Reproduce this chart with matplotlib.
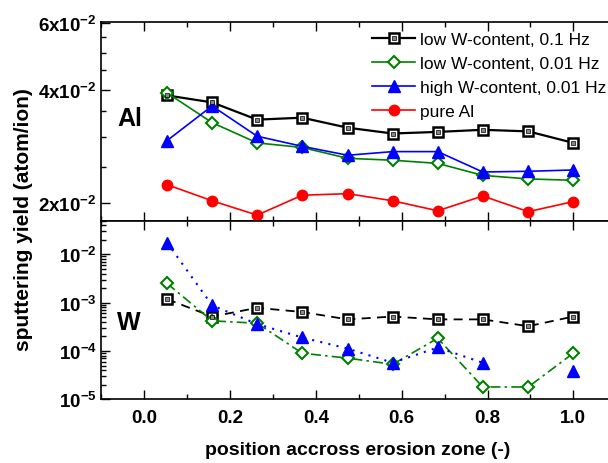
import numpy as np
import matplotlib
matplotlib.use('Agg')
import matplotlib.pyplot as plt
from matplotlib.ticker import FixedLocator, LogLocator, MultipleLocator, NullFormatter
from matplotlib.lines import Line2D

plt.rcParams['font.family'] = ['Liberation Sans', 'DejaVu Sans']
plt.rcParams['mathtext.fontset'] = 'custom'
plt.rcParams['mathtext.rm'] = 'Liberation Sans:bold'
plt.rcParams['mathtext.it'] = 'Liberation Sans:bold'
plt.rcParams['mathtext.bf'] = 'Liberation Sans:bold'

# position across the erosion zone
pos = [0.053, 0.158, 0.263, 0.368, 0.474, 0.579, 0.684, 0.789, 0.895, 1.0]

# Al sputtering yield (atom/ion)
al_low_01   = [0.0386, 0.0370, 0.0333, 0.0337, 0.0317, 0.0306, 0.0309, 0.0313, 0.0310, 0.0289]
al_low_001  = [0.0392, 0.0327, 0.0289, 0.0281, 0.0263, 0.0260, 0.0255, 0.0237, 0.0232, 0.0230]
al_high_001 = [0.0293, 0.0362, 0.0301, 0.0283, 0.0268, 0.0274, 0.0274, 0.0242, 0.0243, 0.0245]
al_pure     = [0.0224, 0.0203, 0.0186, 0.0210, 0.0212, 0.0203, 0.0191, 0.0209, 0.0190, 0.0202]

# W sputtering yield (atom/ion)
w_low_01   = [1.18e-3, 5.15e-4, 7.8e-4, 6.4e-4, 4.5e-4, 5.15e-4, 4.5e-4, 4.5e-4, 3.25e-4, 5.15e-4]
w_low_001  = [2.5e-3, 4.2e-4, 3.75e-4, 9.0e-5, 7.1e-5, 5.3e-5, 1.83e-4, 1.8e-5, 1.8e-5, 9.0e-5]
w_high_001 = [1.75e-2, 8.8e-4, 3.6e-4, 1.9e-4, 1.12e-4, 5.7e-5, 1.18e-4, 5.7e-5, np.nan, 3.9e-5]

labels = ['low W-content, 0.1 Hz', 'low W-content, 0.01 Hz',
          'high W-content, 0.01 Hz', 'pure Al']

GREEN = '#008000'
BLUE = '#0000ff'
RED = '#ff0000'

W, H = 608, 464
fig = plt.figure(figsize=(W / 100, H / 100), dpi=100)
left, right = 101.4 / W, 616.2 / W
ax1 = fig.add_axes([left, 242.5 / H, right - left, (440.7 - 242.5) / H])
ax2 = fig.add_axes([left, 63.7 / H, right - left, (242.5 - 63.7) / H])


def sq_dot(ax, x, y, ls='-', lw=1.6):
    ax.plot(x, y, color='black', ls=ls, lw=lw, marker='s', ms=6.5, mfc='white',
            mec='black', mew=1.8, zorder=3)
    ax.plot(x, y, ls='none', marker='s', ms=2.2, mfc='#888888', mec='black',
            mew=0.5, zorder=4)


# --- Al panel
sq_dot(ax1, pos, al_low_01)
ax1.plot(pos, al_low_001, color=GREEN, lw=1.2, marker='D', ms=6, mfc='white',
         mec=GREEN, mew=1.5, zorder=3)
ax1.plot(pos, al_high_001, color=BLUE, lw=1.2, marker='^', ms=8, mfc=BLUE,
         mec=BLUE, zorder=3)
ax1.plot(pos, al_pure, color=RED, lw=1.2, marker='o', ms=7.5, mfc=RED,
         mec=RED, zorder=3)

# --- W panel
sq_dot(ax2, pos, w_low_01, ls=(0, (5, 3.5)), lw=1.3)
ax2.plot(pos, w_low_001, color=GREEN, lw=1.2, ls=(0, (6, 2.5, 1.5, 2.5)),
         marker='D', ms=6, mfc='white', mec=GREEN, mew=1.5, zorder=3)
ax2.plot(pos, w_high_001, color=BLUE, lw=1.5, ls=(0, (1, 3)), marker='^',
         ms=8, mfc=BLUE, mec=BLUE, zorder=3)

for ax in (ax1, ax2):
    ax.set_yscale('log')
    ax.set_xlim(-0.1, 1.1)
    ax.xaxis.set_major_locator(MultipleLocator(0.2))
    ax.xaxis.set_minor_locator(MultipleLocator(0.1))
    ax.tick_params(which='both', direction='in', top=True, right=False,
                   width=1.0, labelsize=13.5)
    ax.tick_params(which='major', length=6.5)
    ax.tick_params(which='minor', length=3.5)
    for s in ax.spines.values():
        s.set_linewidth(1.2)

ax1.set_ylim(0.018, 0.0603)
ax1.yaxis.set_major_locator(FixedLocator([0.02, 0.04, 0.06]))
ax1.yaxis.set_minor_locator(FixedLocator([0.025, 0.03, 0.035, 0.045, 0.05, 0.055]))
ax1.yaxis.set_minor_formatter(NullFormatter())
ax1.set_yticklabels([r'$2x10^{-2}$', r'$4x10^{-2}$', r'$6x10^{-2}$'])
ax1.tick_params(axis='x', labelbottom=False)

ax2.set_ylim(1e-5, 5e-2)
ax2.yaxis.set_major_locator(FixedLocator([1e-5, 1e-4, 1e-3, 1e-2]))
ax2.yaxis.set_minor_locator(LogLocator(base=10, subs=np.arange(2, 10), numticks=20))
ax2.yaxis.set_minor_formatter(NullFormatter())
ax2.set_yticklabels([r'$10^{-5}$', r'$10^{-4}$', r'$10^{-3}$', r'$10^{-2}$'])
ax2.set_xticks([0.0, 0.2, 0.4, 0.6, 0.8, 1.0])
ax2.set_xticklabels(['0.0', '0.2', '0.4', '0.6', '0.8', '1.0'], fontweight='bold')
ax2.xaxis.set_tick_params(pad=7)

ax1.text(117 / W, 1 - 119 / H, 'Al', transform=fig.transFigure, fontsize=18,
         fontweight='bold', va='center', ha='left')
ax2.text(117 / W, 1 - 323 / H, 'W', transform=fig.transFigure, fontsize=18,
         fontweight='bold', va='center', ha='left')

fig.text(358 / W, 1 - 451 / H, 'position accross erosion zone (-)', fontsize=14,
         fontweight='bold', ha='center', va='center')
fig.text(24 / W, 1 - 220 / H, 'sputtering yield (atom/ion)', fontsize=15,
         fontweight='bold', ha='center', va='center', rotation=90)

# legend
handles = [
    (Line2D([], [], color='black', lw=1.6, marker='s', ms=6.5, mfc='white', mec='black', mew=1.8),
     Line2D([], [], ls='none', marker='s', ms=2.2, mfc='#888888', mec='black', mew=0.5)),
    Line2D([], [], color=GREEN, lw=1.2, marker='D', ms=6, mfc='white', mec=GREEN, mew=1.5),
    Line2D([], [], color=BLUE, lw=1.2, marker='^', ms=8, mfc=BLUE, mec=BLUE),
    Line2D([], [], color=RED, lw=1.2, marker='o', ms=7.5, mfc=RED, mec=RED),
]
fig.legend(handles, labels, loc='upper left', bbox_to_anchor=(372 / W, 1 - 33 / H),
           bbox_transform=fig.transFigure, frameon=False, fontsize=12.5,
           borderpad=0, borderaxespad=0, handlelength=2.5, handletextpad=0.25,
           labelspacing=0.5)

fig.savefig('out.png', dpi=100)
